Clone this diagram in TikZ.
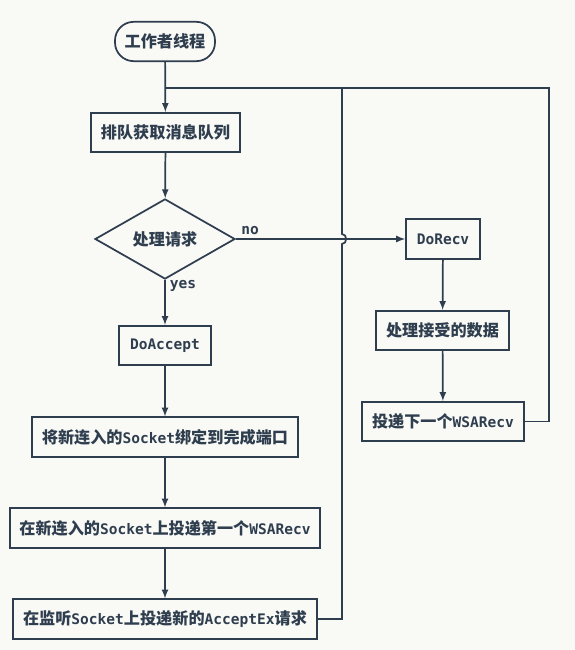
\documentclass[tikz,border=0pt]{standalone}
\usepackage{fontspec}
\setmainfont{DejaVu Sans Mono}
\newfontfamily\cjk[Scale=1.11]{Noto Sans CJK SC}
\newcommand{\zh}[1]{{\cjk #1}}
\usepackage{tikz}
\usetikzlibrary{arrows,shapes.geometric}
\definecolor{lnclr}{RGB}{47,62,78}
\definecolor{bgclr}{RGB}{249,249,246}

\begin{document}
\begin{tikzpicture}[x=0.75pt,y=0.75pt,yscale=-1,xscale=1,
  line width=1.3pt, draw=lnclr, text=lnclr,
  font=\fontsize{10.9}{12}\selectfont\bfseries,
  box/.style={draw=lnclr,rectangle,inner sep=0pt,minimum height=29.5pt},
  term/.style={box,rounded corners=14pt},
  decide/.style={draw=lnclr,diamond,inner sep=0pt,minimum width=105pt,minimum height=52.5pt},
  flow/.style={-latex,draw=lnclr},
  line/.style={draw=lnclr}]
%set diagram size 575 x 650
\fill[bgclr] (0,0) rectangle (575,650);
\useasboundingbox (0,0) rectangle (575,650);

%Shape: Terminal [id:start]
\node[term,minimum width=75pt] (start) at (165,41.5) {\zh{工作者线程}};
%Shape: Rectangle [id:queue]
\node[box,minimum width=112pt] (queue) at (165.5,132.5) {\zh{排队获取消息队列}};
%Shape: Diamond [id:handle]
\node[decide] (handle) at (165,239) {\zh{处理请求}};
%Shape: Rectangle [id:accept]
\node[box,minimum width=69pt] (accept) at (165,345.5) {DoAccept};
%Shape: Rectangle [id:bind]
\node[box,minimum width=199.5pt] (bind) at (165,437) {\zh{将新连入的}Socket\zh{绑定到完成端口}};
%Shape: Rectangle [id:firstrecv]
\node[box,minimum width=232.5pt] (firstrecv) at (165,528) {\zh{在新连入的}Socket\zh{上投递第一个}WSARecv};
%Shape: Rectangle [id:acceptex]
\node[box,minimum width=228pt] (acceptex) at (165,619) {\zh{在监听}Socket\zh{上投递新的}AcceptEx\zh{请求}};
%Shape: Rectangle [id:recv]
\node[box,minimum width=55.5pt] (recv) at (443,239) {DoRecv};
%Shape: Rectangle [id:data]
\node[box,minimum width=100pt] (data) at (442.5,330.5) {\zh{处理接受的数据}};
%Shape: Rectangle [id:nextrecv]
\node[box,minimum width=121.5pt] (nextrecv) at (443,421.5) {\zh{投递下一个}WSARecv};

%Joints of the loop lines
\coordinate (top) at (165,88);
\coordinate (leftup) at (342,88);
\coordinate (rightup) at (549,88);

%Straight Lines [id:main column]
\draw[flow] (start) -- (queue);
\draw[flow] (queue) -- (handle);
\draw[flow] (handle) -- (accept);
\draw[flow] (accept) -- (bind);
\draw[flow] (bind) -- (firstrecv);
\draw[flow] (firstrecv) -- (acceptex);
%Straight Lines [id:right column]
\draw[flow] (handle) -- (recv);
\draw[flow] (recv) -- (data);
\draw[flow] (data) -- (nextrecv);

%Straight Lines [id:loop back from acceptex, hops over the no line]
\draw[line] (acceptex.east) -| (342,244) .. controls (347.5,244) and (347.5,234) .. (342,234) -- (leftup) -- (top);
%Straight Lines [id:loop back from nextrecv]
\draw[line] (nextrecv.east) -| (rightup) -- (top);

% Text Node
\node (nolbl) at (250,230.5) {no};
% Text Node
\node (yeslbl) at (183,286) {yes};

\end{tikzpicture}
\end{document}
